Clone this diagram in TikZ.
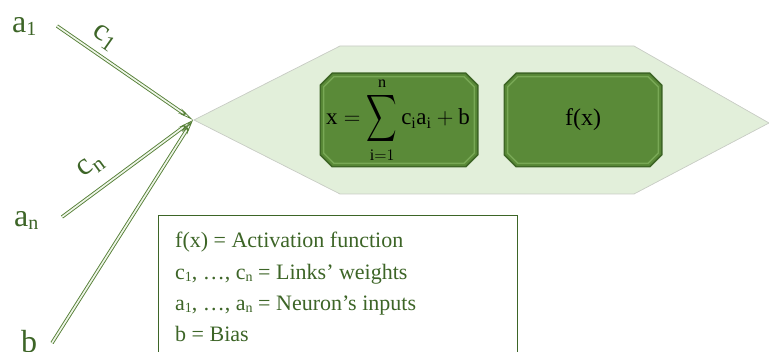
\RequirePackage{fix-cm}
\documentclass[tikz,border=0pt]{standalone}
\usepackage{amsmath}
\usepackage{exscale}
\usepackage{fontspec}
\setmainfont{Liberation Serif}
\usetikzlibrary{arrows.meta}
\definecolor{hexfill}{HTML}{E2EFDA}
\definecolor{hexline}{HTML}{C8CCC4}
\definecolor{boxfill}{HTML}{5A8A38}
\definecolor{boxline}{HTML}{3E6626}
\definecolor{boxhi}{HTML}{78A855}
\definecolor{txtg}{HTML}{3D6527}
\definecolor{wireg}{HTML}{557F36}
\definecolor{wirein}{HTML}{EEF5E8}
\newcommand{\octpath}[2]{([xshift=#2]#1.north west) -- ([xshift=-#2]#1.north east) -- ([yshift=-#2]#1.north east) -- ([yshift=#2]#1.south east) -- ([xshift=-#2]#1.south east) -- ([xshift=#2]#1.south west) -- ([yshift=#2]#1.south west) -- ([yshift=-#2]#1.north west) -- cycle}
\begin{document}
\begin{tikzpicture}[x=1pt,y=-1pt,
  wire/.style={draw=wireg, double=wirein, double distance=1.7pt, line width=0.9pt,
    -{Stealth[open,length=16pt,width=5.5pt,line width=0.8pt]}},
  inlabel/.style={text=txtg, font=\fontsize{32}{32}\selectfont, inner sep=0pt},
  wlabel/.style={text=txtg, font=\fontsize{31}{31}\selectfont, inner sep=0pt},
  boxframe/.style={rectangle, inner sep=0pt, minimum width=157pt, minimum height=93pt},
  boxinner/.style={rectangle, inner sep=0pt, minimum width=150pt, minimum height=86pt},
  boxouter/.style={draw=boxline, line width=1.6pt, fill=boxfill},
  boxhil/.style={draw=boxhi, line width=1.3pt},
  legtext/.style={text=txtg, font=\fontsize{22}{26}\selectfont, anchor=base west, inner sep=0pt}
]
\useasboundingbox (0,0) rectangle (769,352);
% hexagon
\draw[fill=hexfill, draw=hexline, line width=0.7pt]
  (194,120) -- (340,46) -- (634,46) -- (769,123) -- (634,194) -- (340,194) -- cycle;
% boxes
\node[boxframe] (sum) at (399,120) {};
\node[boxinner] (sumin) at (399,120) {};
\node[boxframe] (fx) at (583,120) {};
\node[boxinner] (fxin) at (583,120) {};
\draw[boxouter] \octpath{sum}{12pt};
\draw[boxhil] \octpath{sumin}{10pt};
\draw[boxouter] \octpath{fx}{12pt};
\draw[boxhil] \octpath{fxin}{10pt};
\node[inner sep=0pt] (sumtxt) at (398,120) {\fontsize{23}{27}\selectfont$\displaystyle \mathrm{x}=\mathop{\vcenter{\hbox{\scalebox{0.85}[1.32]{$\displaystyle\sum$}}}}\limits_{\mathrm{i}=1}^{\mathrm{n}}\mathrm{c_i a_i}+\mathrm{b}$};
\node[inner sep=0pt] (fxtxt) at (583,120) {\fontsize{24}{28}\selectfont f(x)};
% points
\coordinate (hub) at (193,120);
\coordinate (p1) at (57,26);
\coordinate (pn) at (62,217);
\coordinate (pb) at (52,343);
% input labels
\node[inlabel, anchor=base west] (a1) at (12,33) {a\raisebox{-3pt}{\fontsize{20}{20}\selectfont 1}};
\node[inlabel, anchor=base west] (an) at (14,227) {a\raisebox{-3pt}{\fontsize{20}{20}\selectfont n}};
\node[inlabel, anchor=base west] (bl) at (21,353) {b};
% wires
\draw[wire] (p1) -- (hub);
\draw[wire] (pn) -- (hub);
\draw[wire] (pb) -- (hub);
% weight labels
\node[wlabel, rotate=-35] (c1) at (104,38) {c\raisebox{-5pt}{\fontsize{22}{22}\selectfont 1}};
\node[wlabel, rotate=36.5] (cn) at (91,166) {c\raisebox{-5pt}{\fontsize{22}{22}\selectfont n}};
% legend
\draw[draw=txtg, line width=1pt, fill=white] (158,360) -- (158,216) -- (517,216) -- (517,360);
\newcommand{\sbs}[1]{\raisebox{-2pt}{\fontsize{14}{14}\selectfont #1}}
\node[legtext] (l1) at (175,248) {f(x) = Activation function};
\node[legtext] (l2) at (175,280) {c\sbs{1}, …, c\sbs{n} = Links’ weights};
\node[legtext] (l3) at (175,311) {a\sbs{1}, …, a\sbs{n} = Neuron’s inputs};
\node[legtext] (l4) at (175,342) {b = Bias};
\end{tikzpicture}
\end{document}
